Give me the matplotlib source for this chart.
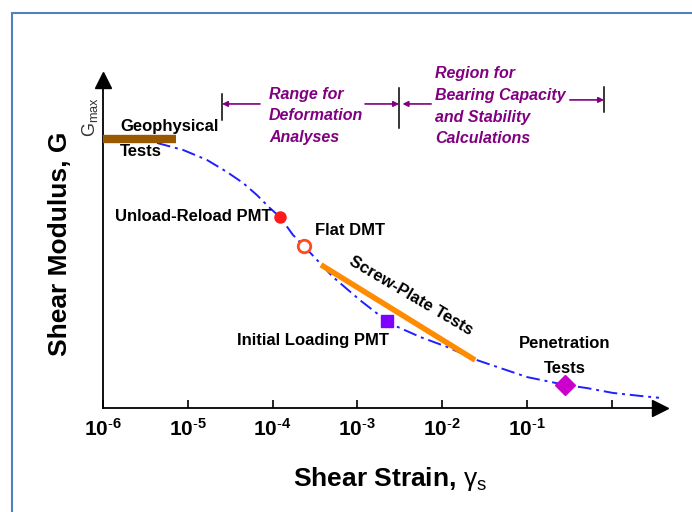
import matplotlib
matplotlib.use("Agg")
import matplotlib.pyplot as plt
from matplotlib.patches import Rectangle
from matplotlib.ticker import NullLocator

plt.rcParams["font.family"] = ["Liberation Sans", "DejaVu Sans"]
plt.rcParams["mathtext.fontset"] = "custom"
plt.rcParams["mathtext.rm"] = "Liberation Sans"
plt.rcParams["mathtext.bf"] = "Liberation Sans:bold"
plt.rcParams["mathtext.it"] = "Liberation Sans:italic"

# modulus reduction curve (G / Gmax vs shear strain)
curve_strain = [4.34e-6, 8.8e-6, 1.68e-5, 2.9e-5, 4.5e-5, 6.5e-5, 9.3e-5, 1.22e-4,
                1.74e-4, 2.34e-4, 3.34e-4, 5.15e-4, 1.07e-3, 2.23e-3, 2.63e-3, 5.5e-3,
                1.14e-2, 2.57e-2, 4.8e-2, 0.1, 0.28, 0.51, 1.03, 2.15, 3.6]
curve_g = [0.985, 0.959, 0.922, 0.877, 0.836, 0.792, 0.743, 0.710,
           0.643, 0.602, 0.550, 0.487, 0.401, 0.323, 0.309, 0.264,
           0.227, 0.178, 0.149, 0.115, 0.086, 0.074, 0.056, 0.045, 0.038]

geo_strain = [1e-6, 7.3e-6]
geo_g = [1.0, 1.0]
screw_strain = [3.72e-4, 2.44e-2]
screw_g = [0.532, 0.178]

ur_pmt = (1.22e-4, 0.710)
flat_dmt = (2.34e-4, 0.602)
init_pmt = (2.23e-3, 0.323)
penetration = (0.28, 0.086)

tick_exp = [-6, -5, -4, -3, -2, -1, 0]
tick_labels = [r"$\mathbf{10^{\text{-}6}}$", r"$\mathbf{10^{\text{-}5}}$", r"$\mathbf{10^{\text{-}4}}$",
               r"$\mathbf{10^{\text{-}3}}$", r"$\mathbf{10^{\text{-}2}}$", r"$\mathbf{10^{\text{-}1}}$", ""]

# strain limits of the deformation / bearing capacity regions
region_bounds = [2.53e-5, 3.1e-3, 0.81]

purple = "#800080"
W, H = 692, 512

fig = plt.figure(figsize=(W / 100, H / 100), dpi=100)
ax = fig.add_axes([103 / W, 104 / H, 557 / W, 328 / H])
ax.set_xscale("log")
ax.set_xlim(1e-6, 10 ** 0.568)
ax.set_ylim(0, 1.219)

ax.spines[["top", "right"]].set_visible(False)
ax.spines["left"].set_linewidth(1.3)
ax.spines["bottom"].set_linewidth(1.3)
ax.plot(1, 0, ">k", ms=12, transform=ax.transAxes, clip_on=False)
ax.plot(0, 1, "^k", ms=12, transform=ax.transAxes, clip_on=False)

ax.set_xticks([10.0 ** e for e in tick_exp])
ax.set_xticklabels(tick_labels, fontsize=15)
ax.xaxis.set_minor_locator(NullLocator())
ax.tick_params(axis="x", direction="in", length=6, width=1.2, pad=7)
ax.set_yticks([])

ax.set_ylabel("Shear Modulus, G", fontsize=19, fontweight="bold", labelpad=22)
ax.set_xlabel(r"Shear Strain, $\mathrm{\gamma}_{\rm s}$", fontsize=19, fontweight="bold")
ax.xaxis.set_label_coords(0.515, -0.175)

ax.annotate(r"G$_{\rm max}$", xy=(1e-6, 1.0), xytext=(-13, 2), textcoords="offset pixels",
            rotation=90, ha="center", va="bottom", fontsize=13, color="#333333")

# curve and test ranges
ax.plot(curve_strain, curve_g, color="#1f1fff", lw=1.4, ls=(0, (7, 2.5, 1.5, 2.5)), zorder=2)
ax.plot(geo_strain, geo_g, color="#9a5800", lw=6, solid_capstyle="butt", zorder=3, clip_on=False)
ax.plot(screw_strain, screw_g, color="#ff8c00", lw=4, solid_capstyle="butt", zorder=3)

ax.plot(*ur_pmt, "o", color="#ff1a1a", ms=8, zorder=4)
ax.plot(*flat_dmt, "o", mfc="white", mec="#ff4a1a", mew=2, ms=9, zorder=4)
ax.plot(*init_pmt, "s", color="#8000ff", ms=9, zorder=4)
ax.plot(*penetration, "D", color="#cc00cc", ms=10, zorder=4)

lbl = dict(textcoords="offset pixels", fontsize=12, fontweight="bold", color="black")
ax.annotate("Geophysical", xy=(geo_strain[0], geo_g[0]), xytext=(17, 12), ha="left", va="center", **lbl)
ax.annotate("Tests", xy=(geo_strain[0], geo_g[0]), xytext=(17, -13), ha="left", va="center", **lbl)
ax.annotate("Unload-Reload PMT", xy=ur_pmt, xytext=(-8, 0), ha="right", va="center", **lbl)
ax.annotate("Flat DMT", xy=flat_dmt, xytext=(11, 16), ha="left", va="center", **lbl)
ax.annotate("Initial Loading PMT", xy=init_pmt, xytext=(2, -19), ha="right", va="center", **lbl)
ax.annotate("Penetration", xy=penetration, xytext=(0, 41), ha="center", va="center", **lbl)
ax.annotate("Tests", xy=penetration, xytext=(0, 16), ha="center", va="center", **lbl)
ax.text(4.3e-3, 0.416, "Screw-Plate Tests", rotation=-30.5, ha="center", va="center",
        fontsize=12, fontweight="bold", rotation_mode="anchor")

# region markers along the top
bar_spans = [(1.071, 1.167), (1.041, 1.19), (1.10, 1.193)]
for b, (y0, y1) in zip(region_bounds, bar_spans):
    ax.plot([b, b], [y0, y1], color="k", lw=1.1, clip_on=False)

arr = dict(arrowstyle="-|>", color=purple, lw=1.2, mutation_scale=8, shrinkA=0, shrinkB=0)
ax.annotate("", xy=(region_bounds[0], 1.13), xytext=(7.1e-5, 1.13), arrowprops=arr)
ax.annotate("", xy=(region_bounds[1], 1.13), xytext=(1.23e-3, 1.13), arrowprops=arr)
ax.annotate("", xy=(3.4e-3, 1.13), xytext=(7.4e-3, 1.13), arrowprops=arr)
ax.annotate("", xy=(region_bounds[2], 1.145), xytext=(0.32, 1.145), arrowprops=arr)

reg = dict(fontsize=11.5, fontweight="bold", fontstyle="italic", color=purple,
           ha="left", va="center", linespacing=1.55)
ax.text(9.1e-5, 1.086, "Range for\nDeformation\nAnalyses", **reg)
ax.text(8.2e-3, 1.121, "Region for\nBearing Capacity\nand Stability\nCalculations", **reg)

fig.add_artist(Rectangle((12 / W, -0.05), 1.0, (H - 13) / H + 0.05, transform=fig.transFigure,
                         fill=False, edgecolor="#4f81bd", lw=1.5))

fig.savefig("out.png", dpi=100)
